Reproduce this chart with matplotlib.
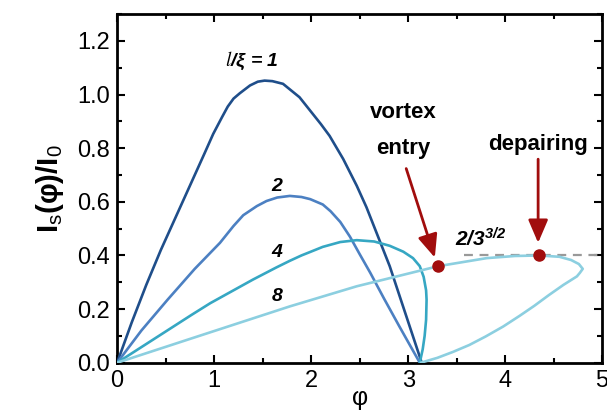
import matplotlib
matplotlib.use("Agg")
import matplotlib.pyplot as plt
from matplotlib.ticker import MultipleLocator

plt.rcParams['font.family'] = ['Liberation Sans', 'DejaVu Sans']
plt.rcParams['mathtext.fontset'] = 'custom'
plt.rcParams['mathtext.rm'] = 'Liberation Sans'
plt.rcParams['mathtext.it'] = 'Liberation Sans:italic'
plt.rcParams['mathtext.bf'] = 'Liberation Sans:bold'
plt.rcParams['mathtext.bfit'] = 'Liberation Sans:italic:bold'

# current-phase relations (phi, I_s/I_0)
phi_1 = [0, 0.15, 0.3, 0.45, 0.6, 0.75, 0.9, 0.99, 1.08, 1.14, 1.2,
         1.265, 1.37, 1.45, 1.52, 1.6, 1.71, 1.88, 1.99, 2.1, 2.19, 2.33,
         2.47, 2.57, 2.81, 3.14]
cur_1 = [0, 0.15, 0.29, 0.42, 0.54, 0.66, 0.78, 0.853, 0.915, 0.955, 0.985,
         1.005, 1.034, 1.048, 1.052, 1.05, 1.04, 0.99, 0.94, 0.89, 0.846,
         0.76, 0.66, 0.58, 0.36, 0]

phi_2 = [0, 0.25, 0.52, 0.8, 1.06, 1.2, 1.3, 1.44, 1.54, 1.65, 1.78, 1.9,
         1.99, 2.12, 2.2, 2.3, 2.4, 2.5, 2.61, 2.75, 2.91, 3.12]
cur_2 = [0, 0.12, 0.235, 0.35, 0.447, 0.51, 0.55, 0.584, 0.603, 0.616,
         0.622, 0.618, 0.61, 0.59, 0.565, 0.525, 0.47, 0.405, 0.335, 0.24,
         0.135, 0]

phi_4 = [0, 0.4, 0.77, 0.96, 1.2, 1.4, 1.64, 1.78, 1.9, 1.99, 2.12, 2.3,
         2.47, 2.65, 2.81, 2.95, 3.05, 3.12, 3.16, 3.185, 3.19, 3.185, 3.17,
         3.15, 3.12]
cur_4 = [0, 0.093, 0.179, 0.222, 0.27, 0.31, 0.355, 0.38, 0.40, 0.413,
         0.432, 0.45, 0.457, 0.452, 0.436, 0.414, 0.39, 0.36, 0.32, 0.27,
         0.235, 0.16, 0.1, 0.05, 0]

phi_8 = [0, 0.77, 1.78, 2.47, 3.31, 3.81, 4.1, 4.35, 4.56, 4.68, 4.76,
         4.80, 4.77, 4.74, 4.6, 4.45, 4.3, 4.15, 3.98, 3.8, 3.63, 3.46,
         3.3, 3.13]
cur_8 = [0, 0.091, 0.21, 0.285, 0.36, 0.39, 0.398, 0.40, 0.395, 0.383,
         0.368, 0.35, 0.335, 0.322, 0.29, 0.252, 0.212, 0.175, 0.135, 0.098,
         0.066, 0.04, 0.018, 0]

curves = [(phi_1, cur_1, "#1f4e8a"), (phi_2, cur_2, "#4c80c2"),
          (phi_4, cur_4, "#36a7c3"), (phi_8, cur_8, "#8ccfe0")]

vortex_entry = (3.31, 0.36)
depairing = (4.35, 0.40)
depairing_level = 0.40

fig = plt.figure(figsize=(6.07, 4.15), dpi=100)
ax = fig.add_axes([0.193, 0.126, 0.799, 0.840])

for x, y, c in curves:
    ax.plot(x, y, color=c, lw=1.9, solid_joinstyle='round',
            solid_capstyle='round', zorder=3)

ax.plot([3.58, 5.0], [depairing_level, depairing_level], color="#999999",
        lw=1.6, ls=(0, (4, 3)), zorder=2)

red = "#a10d0d"
for px, py in (vortex_entry, depairing):
    ax.plot(px, py, 'o', color=red, ms=8, zorder=5)

ax.annotate("", xy=(3.275, 0.392), xytext=(2.98, 0.724),
            arrowprops=dict(arrowstyle='-|>,head_length=0.7,head_width=0.3',
                            color=red, lw=2.0, mutation_scale=20,
                            shrinkA=0, shrinkB=0))
ax.annotate("", xy=(4.34, 0.447), xytext=(4.34, 0.759),
            arrowprops=dict(arrowstyle='-|>,head_length=0.7,head_width=0.3',
                            color=red, lw=2.0, mutation_scale=20,
                            shrinkA=0, shrinkB=0))

ax.text(2.945, 0.934, "vortex", fontsize=16, fontweight='bold',
        ha='center', va='center')
ax.text(2.945, 0.797, "entry", fontsize=16, fontweight='bold',
        ha='center', va='center')
ax.text(4.337, 0.815, "depairing", fontsize=16, fontweight='bold',
        ha='center', va='center')
ax.text(3.48, 0.434, r"2/3$^{\mathbfit{3/2}}$", fontsize=15,
        fontweight='bold', fontstyle='italic', ha='left', va='baseline')

ax.text(1.39, 1.126, r"$l$/ξ = 1", fontsize=14, fontweight='bold',
        fontstyle='italic', ha='center', va='center', math_fontfamily='stix')
for lab, yy in (("2", 0.657), ("4", 0.41), ("8", 0.246)):
    ax.text(1.65, yy, lab, fontsize=14, fontweight='bold',
            fontstyle='italic', ha='center', va='center')

ax.set_xlim(0, 5)
ax.set_ylim(0, 1.3)
ax.xaxis.set_major_locator(MultipleLocator(1))
ax.xaxis.set_minor_locator(MultipleLocator(0.5))
ax.yaxis.set_major_locator(MultipleLocator(0.2))
ax.yaxis.set_minor_locator(MultipleLocator(0.1))
ax.yaxis.set_major_formatter(plt.FormatStrFormatter('%.1f'))
ax.tick_params(which='both', direction='in', top=True, right=True,
               width=1.5, labelsize=17)
ax.tick_params(which='major', length=6, pad=5)
ax.tick_params(which='minor', length=3.5)
for s in ax.spines.values():
    s.set_linewidth(2.0)

ax.set_xlabel("φ", fontsize=18, labelpad=-4)
ax.set_ylabel(r"$\mathbf{I}_\mathrm{s}\mathbf{(φ)/I}_\mathrm{0}$",
              fontsize=21, labelpad=8)

fig.savefig("out.png", dpi=100)
